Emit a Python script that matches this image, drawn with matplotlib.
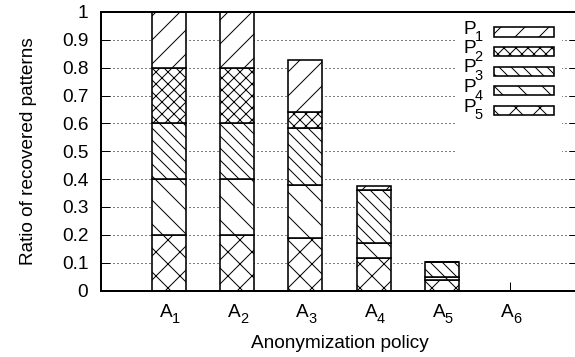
import matplotlib
matplotlib.use("Agg")
import matplotlib.pyplot as plt
from matplotlib.patches import Rectangle
import numpy as np

plt.rcParams['font.family'] = ['Liberation Sans', 'DejaVu Sans']
plt.rcParams['hatch.linewidth'] = 1.0

policy_base = ['A', 'A', 'A', 'A', 'A', 'A']
policy_sub = ['1', '2', '3', '4', '5', '6']
series_base = ['P', 'P', 'P', 'P', 'P']
series_sub = ['1', '2', '3', '4', '5']
P1 = [0.2, 0.2, 0.188, 0.012, 0.0, 0.0]
P2 = [0.2, 0.2, 0.057, 0.0, 0.0, 0.0]
P3 = [0.2, 0.2, 0.203, 0.190, 0.055, 0.0]
P4 = [0.2, 0.2, 0.190, 0.054, 0.011, 0.0]
P5 = [0.2, 0.2, 0.190, 0.118, 0.037, 0.0]
yticks = [0, 0.1, 0.2, 0.3, 0.4, 0.5, 0.6, 0.7, 0.8, 0.9, 1]
ytick_labels = ['0', '0.1', '0.2', '0.3', '0.4', '0.5', '0.6', '0.7', '0.8', '0.9', '1']

series_values = [P1, P2, P3, P4, P5]
hatches = ['/', 'xx', '\\\\', '\\', 'x']

FS = 19
SFS = 14.5
W, H = 575, 357
DPI = 72
fig = plt.figure(figsize=(W / DPI, H / DPI), dpi=DPI)
L, R, T, B = 100.8, 578.2, 12, 290.5
ax = fig.add_axes([L / W, 1 - B / H, (R - L) / W, (B - T) / H])

x = np.arange(1, len(policy_base) + 1)
bottom = np.zeros(len(policy_base))
for i in [4, 3, 2, 1, 0]:
    v = np.array(series_values[i])
    ax.bar(x, v, 0.5, bottom=bottom, facecolor='white', edgecolor='black',
           linewidth=1.6, hatch=hatches[i], zorder=2)
    bottom += v

ax.set_xlim(0, 7)
ax.set_ylim(0, 1)
ax.set_xticks(x)
ax.set_xticklabels([''] * len(x))
ax.set_yticks(yticks)
ax.set_yticklabels(ytick_labels)
ax.set_axisbelow(True)
ax.yaxis.grid(True, linestyle=(0, (1, 3)), color='black', linewidth=1.0)
ax.tick_params(axis='y', direction='in', length=9, width=1, left=True, right=True,
               labelsize=FS, pad=12.5, color='black')
ax.tick_params(axis='x', direction='in', length=9, width=1, top=False)
for s in ax.spines.values():
    s.set_linewidth(2)

# x tick labels with subscripts
for xi, b, s in zip(x, policy_base, policy_sub):
    ax.annotate(b, xy=(xi, 0), xycoords=('data', 'axes fraction'),
                xytext=(3.5, -26.8), textcoords='offset points',
                ha='right', va='baseline', fontsize=FS)
    ax.annotate(s, xy=(xi, 0), xycoords=('data', 'axes fraction'),
                xytext=(3.0, -32.5), textcoords='offset points',
                ha='left', va='baseline', fontsize=SFS)

ax.set_ylabel('Ratio of recovered patterns', fontsize=FS)
ax.yaxis.set_label_coords(-(L - 37) / (R - L), 0.5)
ax.set_xlabel('Anonymization policy', fontsize=FS, va='baseline')
ax.xaxis.set_label_coords(0.5, -(348 - B) / (B - T))

# legend (gnuplot style: label left, swatch right)
def fx(px):
    return px / W
def fy(py):
    return 1 - py / H

fig.patches.append(Rectangle((fx(455), fy(156)), fx(562) - fx(455), fy(13) - fy(156),
                             transform=fig.transFigure, facecolor='white',
                             edgecolor='none', zorder=5))
row_y = [32, 51.5, 71, 90.5, 110]
for i, yc in enumerate(row_y):
    fig.patches.append(Rectangle((fx(494), fy(yc + 4.5)), fx(554) - fx(494), 9 / H,
                                 transform=fig.transFigure, facecolor='white',
                                 edgecolor='black', linewidth=1.6,
                                 hatch=hatches[i], zorder=6))
    fig.text(fx(476), fy(yc + 1.5), series_base[i],
             ha='right', va='baseline', fontsize=FS, zorder=7)
    fig.text(fx(474.5), fy(yc + 9.2), series_sub[i],
             ha='left', va='baseline', fontsize=SFS, zorder=7)

fig.savefig('out.png', dpi=DPI)
